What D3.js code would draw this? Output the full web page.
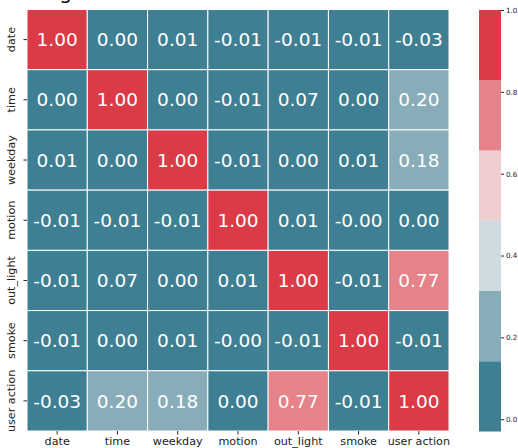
<!DOCTYPE html>
<html><head><meta charset="utf-8">
<script src="https://cdn.jsdelivr.net/npm/d3@7"></script>
<style>body{margin:0;background:#fff}svg{display:block}text{font-family:"DejaVu Sans",sans-serif}</style>
</head><body>
<svg id="c" width="518" height="448"></svg>
<script>
const labels = ["date","time","weekday","motion","out_light","smoke","user action"];
const rowDate     = [1.00, 0.00, 0.01, -0.01, -0.01, -0.01, -0.03];
const rowTime     = [0.00, 1.00, 0.00, -0.01, 0.07, 0.00, 0.20];
const rowWeekday  = [0.01, 0.00, 1.00, -0.01, 0.00, 0.01, 0.18];
const rowMotion   = [-0.01, -0.01, -0.01, 1.00, 0.01, -0.00, 0.00];
const rowOutLight = [-0.01, 0.07, 0.00, 0.01, 1.00, -0.01, 0.77];
const rowSmoke    = [-0.01, 0.00, 0.01, -0.00, -0.01, 1.00, -0.01];
const rowUser     = [-0.03, 0.20, 0.18, 0.00, 0.77, -0.01, 1.00];
const matrix = [rowDate,rowTime,rowWeekday,rowMotion,rowOutLight,rowSmoke,rowUser];
const palette = ["#3f7f93","#88adb9","#cfdbe0","#efced1","#e5828a","#db3b47"];
const cbTicks = [0.0,0.2,0.4,0.6,0.8,1.0];
const title = "Figure of Correlation between Features";

const svg = d3.select("#c");
const L=27, R=449, T=9.5, B=431;
const x = d3.scaleBand().domain(labels).range([L,R]);
const y = d3.scaleBand().domain(labels).range([T,B]);
const vmin = d3.min(matrix.flat()), vmax = 1.0;
const color = d3.scaleQuantize().domain([vmin,vmax]).range(palette);
const fmt = v => (v<0 || Object.is(v,-0)) ? "-"+Math.abs(v).toFixed(2) : v.toFixed(2);

svg.append("text").attr("x",(L+R)/2).attr("y",-1).attr("text-anchor","middle")
  .attr("font-size",20).attr("fill","#000").text(title);

const cells = [];
matrix.forEach((row,i)=>row.forEach((v,j)=>cells.push({r:labels[i],c:labels[j],v})));
svg.append("g").selectAll("rect").data(cells).join("rect")
  .attr("x",d=>x(d.c)).attr("y",d=>y(d.r))
  .attr("width",x.bandwidth()).attr("height",y.bandwidth())
  .attr("fill",d=>color(d.v)).attr("stroke","#ffffff").attr("stroke-width",1);
svg.append("g").selectAll("text").data(cells).join("text")
  .attr("x",d=>x(d.c)+x.bandwidth()/2).attr("y",d=>y(d.r)+y.bandwidth()/2)
  .attr("dy","0.36em").attr("text-anchor","middle").attr("font-size",18.5)
  .attr("fill","#fff").text(d=>fmt(d.v));

// x axis
const xa = svg.append("g").attr("transform",`translate(0,${B})`)
  .call(d3.axisBottom(x).tickSize(3.5).tickPadding(3));
xa.select(".domain").remove();
xa.selectAll("text").attr("font-size",11.2).attr("fill","#222").attr("font-family","DejaVu Sans");
xa.selectAll("line").attr("stroke","#222");
// y axis
const ya = svg.append("g").attr("transform",`translate(${L},0)`)
  .call(d3.axisLeft(y).tickSize(3.5).tickPadding(3));
ya.select(".domain").remove();
ya.selectAll("line").attr("stroke","#222");
ya.selectAll("text").attr("font-size",11.2).attr("fill","#222").attr("font-family","DejaVu Sans")
  .attr("text-anchor","middle").attr("transform","rotate(-90)")
  .attr("x",0).attr("dy",0).attr("y",-12);

// colorbar
const cbX=479, cbW=22;
const cy = d3.scaleLinear().domain([vmin,vmax]).range([431.5,10]);
const bands = palette.map(c=>{const [a,b]=color.invertExtent(c);return {c,a,b};});
svg.append("g").selectAll("rect").data(bands).join("rect")
  .attr("x",cbX).attr("y",d=>cy(d.b)).attr("width",cbW).attr("height",d=>cy(d.a)-cy(d.b))
  .attr("fill",d=>d.c);
const ca = svg.append("g").attr("transform",`translate(${cbX+cbW},0)`)
  .call(d3.axisRight(cy).tickValues(cbTicks).tickFormat(d3.format(".1f")).tickSize(3).tickPadding(2));
ca.select(".domain").remove();
ca.selectAll("text").attr("font-size",7.2).attr("fill","#222").attr("font-family","DejaVu Sans");
ca.selectAll("line").attr("stroke","#222");
</script>
</body></html>
